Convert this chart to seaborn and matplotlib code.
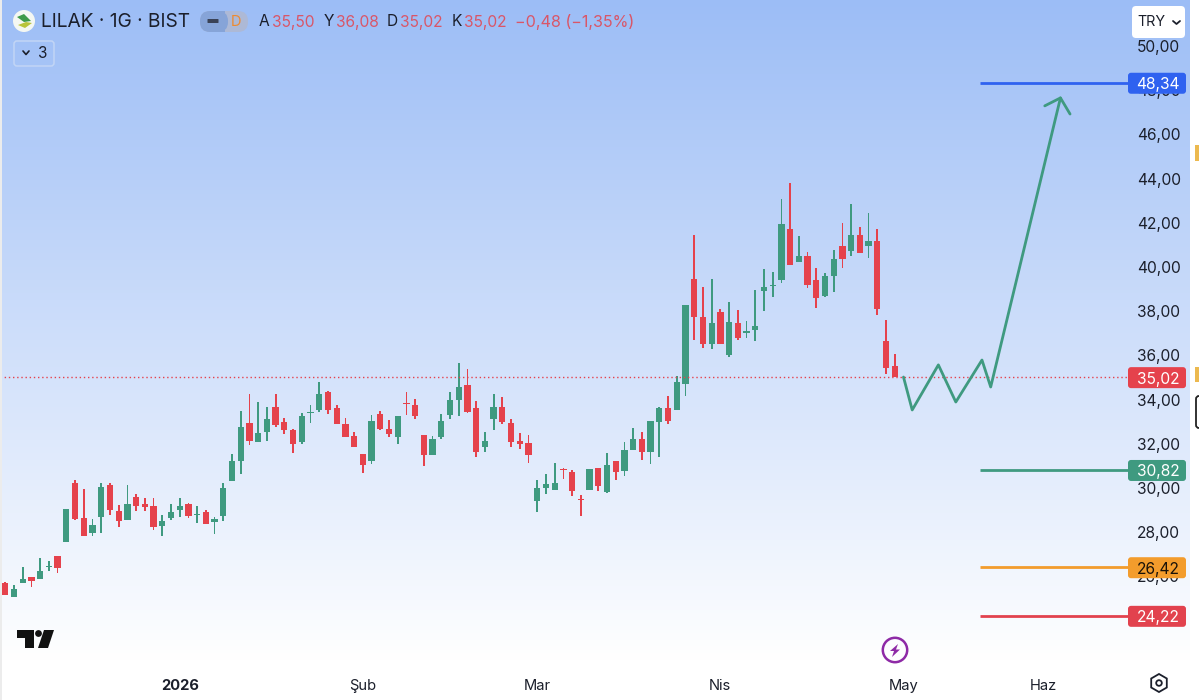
import numpy as np
import pandas as pd
import matplotlib
matplotlib.use("Agg")
import matplotlib.pyplot as plt
import seaborn as sns
from matplotlib.patches import FancyBboxPatch, Circle, Polygon, Rectangle, RegularPolygon

# === DATA ===
opens = [25.69, 25.08, 25.70, 25.97, 25.87, 26.41, 26.92, 27.54, 30.24, 28.63, 27.95, 28.69, 30.12, 28.96, 28.57,
         29.58, 29.26, 29.19, 28.28, 28.63, 29.02, 29.26, 28.78, 28.90, 28.46, 28.73, 30.30, 31.22, 32.94, 32.10,
         32.53, 33.66, 32.97, 32.62, 32.10, 33.38, 33.51, 34.36, 33.60, 32.90, 32.34, 31.54, 31.24, 33.36, 32.68,
         32.32, 33.86, 33.75, 32.40, 31.51, 32.29, 33.32, 33.97, 34.66, 33.62, 31.87, 33.11, 33.66, 32.93, 32.11,
         32.04, 29.41, 30.02, 29.91, 30.84, 30.74, 29.52, 29.91, 30.90, 29.82, 31.21, 30.77, 31.73, 32.20, 31.63,
         32.99, 33.63, 33.51, 34.70, 39.44, 37.75, 36.52, 37.95, 36.03, 37.45, 37.03, 37.16, 38.90, 39.13, 39.41,
         41.71, 40.23, 40.50, 39.41, 38.69, 39.59, 40.95, 40.71, 41.45, 40.95, 41.18, 36.64, 35.50]
highs = [25.75, 25.61, 26.44, 25.97, 26.85, 26.70, 26.92, 29.03, 30.36, 29.94, 28.60, 30.24, 30.24, 29.22, 30.12,
         29.71, 29.55, 29.55, 28.76, 29.26, 29.55, 29.31, 29.19, 29.00, 28.70, 30.23, 31.54, 33.47, 34.25, 33.88,
         33.66, 34.27, 33.18, 32.65, 33.38, 33.75, 34.80, 34.37, 33.75, 33.18, 32.52, 31.54, 33.32, 33.47, 33.06,
         33.27, 34.34, 34.04, 32.40, 32.34, 33.33, 34.34, 35.66, 35.37, 33.92, 32.52, 34.27, 34.13, 33.11, 32.47,
         32.41, 30.35, 30.62, 31.13, 30.92, 30.80, 29.67, 30.87, 30.90, 31.60, 31.22, 32.07, 32.71, 32.55, 33.05,
         33.68, 34.18, 35.07, 38.28, 41.45, 39.11, 39.44, 38.11, 38.41, 38.07, 37.54, 38.95, 39.92, 39.77, 43.06,
         43.82, 41.40, 40.66, 39.95, 39.71, 40.75, 42.01, 42.85, 41.83, 42.46, 41.71, 37.60, 36.08]
lows = [25.14, 25.08, 25.70, 25.54, 25.87, 26.23, 26.14, 27.54, 28.57, 27.81, 27.84, 27.98, 28.76, 28.25, 28.54,
        28.97, 28.97, 28.10, 27.84, 28.54, 28.70, 28.63, 28.43, 28.37, 27.92, 28.49, 30.30, 30.63, 31.95, 32.10,
        32.13, 32.74, 32.44, 31.60, 32.01, 32.94, 33.44, 33.36, 32.90, 32.29, 31.84, 30.66, 31.09, 32.62, 32.29,
        32.01, 33.32, 33.14, 31.00, 31.49, 32.23, 33.14, 33.27, 33.41, 31.42, 31.61, 32.62, 32.91, 31.85, 31.75,
        31.13, 28.91, 29.71, 29.91, 30.41, 29.65, 28.73, 29.91, 29.85, 29.79, 30.36, 30.54, 31.70, 31.28, 31.10,
        31.39, 32.90, 33.51, 34.16, 36.68, 36.32, 36.27, 36.53, 35.91, 36.71, 36.77, 36.64, 38.02, 38.63, 39.26,
        40.09, 40.23, 39.06, 38.14, 38.63, 38.88, 39.95, 40.50, 40.62, 40.39, 37.83, 35.18, 35.02]
closes = [25.17, 25.42, 25.88, 25.79, 26.24, 26.46, 26.38, 29.03, 28.60, 27.83, 28.34, 30.05, 29.02, 28.49, 29.28,
          29.19, 29.16, 28.24, 28.51, 28.91, 29.20, 28.73, 28.82, 28.37, 28.61, 29.98, 31.21, 32.74, 32.11, 32.49,
          33.12, 32.83, 32.61, 32.01, 33.27, 33.42, 34.24, 33.53, 32.90, 32.32, 31.85, 31.03, 33.05, 32.65, 32.46,
          33.27, 33.80, 33.24, 31.51, 32.22, 33.05, 33.97, 34.55, 33.45, 31.61, 32.13, 33.68, 32.99, 32.10, 31.99,
          31.51, 30.00, 30.17, 30.23, 30.80, 29.88, 29.47, 30.84, 30.08, 31.04, 30.74, 31.73, 32.20, 31.63, 33.05,
          33.63, 33.02, 34.78, 38.28, 37.72, 36.52, 37.47, 36.53, 37.50, 36.77, 37.09, 37.33, 39.11, 39.17, 41.93,
          40.09, 40.48, 39.17, 38.61, 39.59, 40.36, 40.36, 41.45, 40.62, 41.16, 38.10, 35.41, 35.02]

price_ticks = [50, 48, 46, 44, 42, 40, 38, 36, 34, 32, 30, 28, 26]
time_ticks = [20, 41, 61, 82, 103, 119]
time_labels = ["2026", "Şub", "Mar", "Nis", "May", "Haz"]

path_x = [103, 104, 107, 109, 112, 113, 121]
path_y = [35.02, 33.53, 35.57, 33.89, 35.79, 34.57, 47.65]
head_x = [119.2, 121, 122.1]
head_y = [47.29, 47.65, 46.92]

level_values = [48.34, 30.82, 26.42, 24.22]
level_colors = ["#2f62f0", "#3f9a80", "#f39c2c", "#e2424e"]
level_text = ["#ffffff", "#ffffff", "#1a1208", "#ffffff"]
last_price = 35.02

GREEN = "#3f9a80"
RED = "#e5424c"
INK = "#1b1f2b"

# === SETUP ===
sns.set_theme(style="white")
plt.rcParams["font.family"] = ["Inter", "DejaVu Sans"]

fig = plt.figure(figsize=(11.99, 7), dpi=100)

# background gradient
bg = fig.add_axes([0, 0, 1, 1], zorder=0)
grad = np.linspace(0, 1, 700).clip(0, 660 / 700) / (660 / 700)
top_col = np.array([156, 189, 246]) / 255
rgb = top_col[None, None, :] + (1 - top_col)[None, None, :] * grad[:, None, None]
bg.imshow(rgb, aspect="auto", extent=[0, 1199, 700, 0])
bg.set_xlim(0, 1199)
bg.set_ylim(700, 0)
bg.axis("off")

# === CANDLES ===
ax = fig.add_axes([0, 32 / 700, 1129 / 1199, 668 / 700], zorder=1)
ax.patch.set_alpha(0)

df = pd.DataFrame({"open": opens, "high": highs, "low": lows, "close": closes})
df["idx"] = np.arange(len(df))
df["body_low"] = df[["open", "close"]].min(axis=1)
df["body"] = (df["open"] - df["close"]).abs()
df["wick"] = df["high"] - df["low"]
df["up"] = df["close"] >= df["open"]

for up, color in [(True, GREEN), (False, RED)]:
    sub = df[df["up"] == up]
    sns.barplot(data=sub, x="idx", y="wick", bottom=sub["low"].values, native_scale=True, width=0.2,
                color=color, saturation=1, linewidth=0, errorbar=None, ax=ax)
    sns.barplot(data=sub, x="idx", y="body", bottom=sub["body_low"].values, native_scale=True, width=0.72,
                color=color, saturation=1, linewidth=0, errorbar=None, ax=ax)

ax.axhline(last_price, color=RED, lw=1, ls=(0, (1, 2)), zorder=1)
for v, c in zip(level_values, level_colors):
    ax.hlines(v, 111.8, 128.9, color=c, lw=2)

sns.lineplot(x=path_x, y=path_y, sort=False, errorbar=None, color=GREEN, lw=2, ax=ax)
sns.lineplot(x=head_x, y=head_y, sort=False, errorbar=None, color=GREEN, lw=2, ax=ax)

ax.set_xlim(-0.608, 128.86)
ax.set_ylim(21.855, 52.08)
ax.set_xlabel("")
ax.set_ylabel("")
ax.grid(False)
for s in ax.spines.values():
    s.set_visible(False)

ax.yaxis.tick_right()
ax.set_yticks(price_ticks)
ax.set_yticklabels([f"{t},00" for t in price_ticks])
ax.tick_params(axis="y", length=0, pad=5.6, labelsize=11.2, labelcolor=INK)
ax.set_xticks(time_ticks)
ax.set_xticklabels(time_labels)
ax.tick_params(axis="x", length=0, pad=8, labelsize=10.6, labelcolor=INK)
ax.get_xticklabels()[0].set_fontweight("bold")

# === UI OVERLAY (pixel coords) ===
ui = fig.add_axes([0, 0, 1, 1], zorder=2)
ui.set_xlim(0, 1199)
ui.set_ylim(700, 0)
ui.axis("off")
ui.patch.set_alpha(0)


def rbox(x0, y0, x1, y1, fc, ec="none", lw=0, r=3):
    ui.add_patch(FancyBboxPatch((x0 + r, y0 + r), x1 - x0 - 2 * r, y1 - y0 - 2 * r,
                                boxstyle=f"round,pad={r},rounding_size={r}", fc=fc, ec=ec, lw=lw))


def label_box(v, color, tcolor):
    y = 700 - ax.transData.transform((0, v))[1] + 0.6
    rbox(1128, y - 10.5, 1186, y + 10.5, color)
    ui.text(1158, y, f"{v:.2f}".replace(".", ","), color=tcolor, fontsize=11.2, ha="center", va="center_baseline")


for v, c, t in zip(level_values, level_colors, level_text):
    label_box(v, c, t)
label_box(last_price, RED, "#ffffff")

# outer page strips
ui.add_patch(Rectangle((1190, 0), 9, 700, fc="#ffffff", ec="none"))
ui.add_patch(Rectangle((0, 0), 2, 700, fc="#ececec", ec="none"))
ui.add_patch(Rectangle((1195, 145), 4, 16, fc="#ecb94f", ec="none"))
ui.add_patch(Rectangle((1195, 367), 4, 15, fc="#ecb94f", ec="none"))
rbox(1196, 396, 1204, 428, "#ffffff", ec="#222222", lw=1.3, r=3)

# header
ui.add_patch(Circle((24, 21), 11, fc="#f4f7f2", ec="none"))
ui.add_patch(Polygon([[17, 17], [24, 14], [31, 21], [24, 22]], fc="#3f9b4a", ec="none"))
ui.add_patch(Polygon([[18, 25], [26, 22], [32, 23], [25, 28]], fc="#b8c43a", ec="none"))
ui.text(41, 22, "LILAK · 1G · BIST", fontsize=13.8, color=INK, va="center", ha="left")
rbox(200, 11, 248, 32, "#adb9d6", r=10)
rbox(200, 11, 228, 32, "#86a4d8", r=10)
ui.add_patch(Rectangle((218, 11), 7, 21, fc="#86a4d8", ec="none"))
ui.add_patch(FancyBboxPatch((208, 19.5), 10, 3, boxstyle="round,pad=0.5", fc="#3a4256", ec="none"))
ui.text(235.5, 22, "D", fontsize=10.5, color="#ee8a2f", ha="center", va="center")

ohlc_red = "#d95668"
for x, s in [(259, "A"), (324, "Y"), (387, "D"), (452, "K")]:
    ui.text(x, 22, s, fontsize=11.2, color=INK, va="center")
for x, s in [(272, "35,50"), (336, "36,08"), (400, "35,02"), (464, "35,02")]:
    ui.text(x, 22, s, fontsize=11.2, color=ohlc_red, va="center")
ui.text(515, 22, "−0,48 (−1,35%)", fontsize=11.6, color=ohlc_red, va="center")

rbox(14, 41, 54, 66, "none", ec="#c2d5f5", lw=1.1, r=3)
ui.plot([23, 26, 29], [51, 54.5, 51], color=INK, lw=1.2)
ui.text(43, 53.5, "3", fontsize=11, color=INK, ha="center", va="center")

rbox(1132, 6, 1185, 38, "#ffffff", r=4)
ui.text(1137, 22.5, "TRY", fontsize=10.3, color=INK, va="center")
ui.plot([1173, 1176.5, 1180], [21, 24, 21], color=INK, lw=1.3)

# logo
ui.add_patch(Polygon([[17, 630], [34, 630], [34, 648], [25, 648], [25, 638], [17, 638]], fc="#111111", ec="none"))
ui.add_patch(Circle((38.5, 633.5), 3.4, fc="#111111", ec="none"))
ui.add_patch(Polygon([[44, 630], [54, 630], [48, 648], [38, 648]], fc="#111111", ec="none"))

# event marker
ui.add_patch(Circle((895, 650), 12.2, fc="none", ec="#8e2aa6", lw=1.8))
ui.add_patch(Polygon([[898, 644], [890, 651], [894, 651], [892, 657], [900, 649.5], [896, 649.5]],
                     fc="#8e2aa6", ec="none"))

# settings icon
ui.add_patch(RegularPolygon((1159, 683), 6, radius=9, fc="none", ec=INK, lw=1.3))
ui.add_patch(Circle((1159, 683), 2.8, fc="none", ec=INK, lw=1.3))

fig.savefig("out.png", dpi=100)
